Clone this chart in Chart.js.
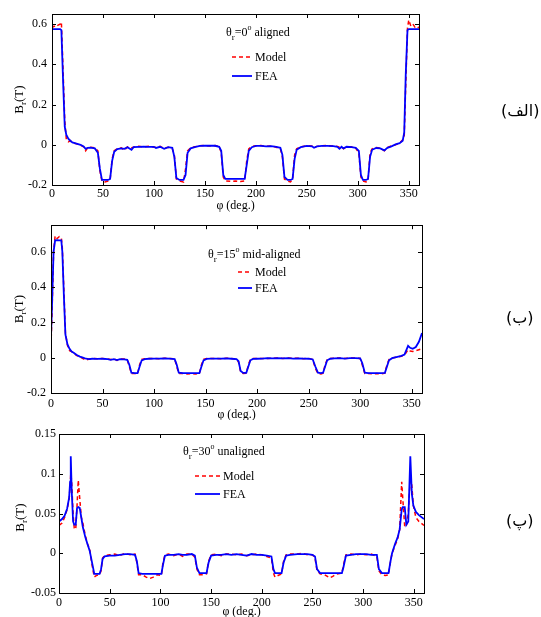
<!DOCTYPE html>
<html>
<head>
<meta charset="utf-8">
<script src="https://cdn.jsdelivr.net/npm/chart.js@4.4.0/dist/chart.umd.min.js"></script>
<style>
body { margin: 0; background: #fff; width: 541px; height: 617px; position: relative; overflow: hidden; }
canvas { position: absolute; left: 0; }
.tag { position: absolute; font-family: 'DejaVu Sans', sans-serif; font-size: 16px; line-height: 20px; direction: rtl; white-space: nowrap; color: #000; }
</style>
</head>
<body>
<canvas id="chartA" width="541" height="213" style="top:0px"></canvas>
<canvas id="chartB" width="541" height="207" style="top:213px"></canvas>
<canvas id="chartC" width="541" height="197" style="top:420px"></canvas>
<div class="tag" style="left:501px;top:101px">(الف)</div>
<div class="tag" style="left:506px;top:308px">(ب)</div>
<div class="tag" style="left:506px;top:511px">(پ)</div>
<script>
// x ticks shared by all three panels
const xTicks = [0, 50, 100, 150, 200, 250, 300, 350];

// (الف) theta_r = 0 deg, aligned
const phiA = [0, 2, 4, 6, 8, 9.2, 11, 12.5, 14, 16, 18, 20, 24, 28, 31, 33, 35, 38, 42, 45, 47, 49, 52, 55, 57, 59, 61, 64, 68, 71, 74, 78, 80, 85, 90, 95, 100, 102, 106, 110, 114, 118, 120, 122, 125, 129, 131, 133, 136, 140, 145, 150, 155, 160, 164, 166, 168, 170, 175, 180, 185, 189, 191, 193, 196, 200, 205, 210, 215, 220, 224, 226, 228, 231, 234, 236, 238, 240, 244, 250, 255, 257, 260, 265, 270, 276, 280, 282, 284, 286, 289, 294, 298, 301, 303, 305, 308, 310, 312, 314, 318, 322, 326, 329, 333, 337, 341, 344, 345.5, 347, 348.7, 350, 352, 354, 356, 358, 360];
const feaA = [0.575, 0.575, 0.575, 0.575, 0.575, 0.57, 0.3, 0.09, 0.05, 0.03, 0.02, 0.012, 0.006, 0.0, -0.008, -0.02, -0.015, -0.014, -0.018, -0.04, -0.12, -0.175, -0.175, -0.175, -0.17, -0.08, -0.035, -0.022, -0.018, -0.02, -0.012, -0.025, -0.012, -0.01, -0.009, -0.01, -0.01, -0.016, -0.01, -0.02, -0.012, -0.015, -0.06, -0.165, -0.175, -0.175, -0.15, -0.04, -0.018, -0.012, -0.006, -0.005, -0.005, -0.005, -0.01, -0.03, -0.15, -0.17, -0.17, -0.17, -0.17, -0.17, -0.1, -0.03, -0.012, -0.006, -0.006, -0.008, -0.007, -0.01, -0.015, -0.05, -0.16, -0.175, -0.175, -0.17, -0.07, -0.025, -0.012, -0.006, -0.008, -0.015, -0.008, -0.006, -0.006, -0.007, -0.01, -0.02, -0.01, -0.018, -0.01, -0.012, -0.015, -0.03, -0.15, -0.175, -0.175, -0.17, -0.06, -0.025, -0.016, -0.018, -0.028, -0.015, -0.008, 0.002, 0.008, 0.02, 0.06, 0.35, 0.57, 0.575, 0.575, 0.575, 0.575, 0.575, 0.575];
const modelA = [0.58, 0.59, 0.585, 0.595, 0.6, 0.61, 0.35, 0.12, 0.03, 0.015, 0.02, 0.01, 0.005, -0.002, -0.01, -0.03, -0.015, -0.012, -0.015, -0.03, -0.13, -0.18, -0.185, -0.18, -0.175, -0.07, -0.03, -0.02, -0.015, -0.028, -0.01, -0.015, -0.012, -0.008, -0.01, -0.008, -0.012, -0.012, -0.008, -0.018, -0.012, -0.02, -0.05, -0.17, -0.18, -0.185, -0.12, -0.03, -0.015, -0.01, -0.005, -0.004, -0.006, -0.004, -0.008, -0.04, -0.16, -0.18, -0.182, -0.18, -0.183, -0.18, -0.08, -0.02, -0.008, -0.005, -0.004, -0.008, -0.006, -0.012, -0.02, -0.06, -0.17, -0.18, -0.185, -0.17, -0.05, -0.02, -0.01, -0.005, -0.006, -0.012, -0.008, -0.005, -0.004, -0.006, -0.008, -0.012, -0.01, -0.02, -0.01, -0.01, -0.018, -0.04, -0.16, -0.18, -0.185, -0.18, -0.04, -0.02, -0.014, -0.016, -0.03, -0.014, -0.006, 0.0, 0.008, 0.025, 0.04, 0.3, 0.58, 0.62, 0.59, 0.6, 0.585, 0.59, 0.58];
const yTicksA = [-0.2, 0, 0.2, 0.4, 0.6];

// (ب) theta_r = 15 deg, mid-aligned
const phiB = [0, 1, 2.5, 4, 6, 8, 10, 11, 12.5, 14, 16, 18, 20, 22, 25, 28, 31, 34, 37, 40, 45, 50, 55, 58, 61, 64, 67, 71, 74, 76, 78, 81, 84, 86, 88, 91, 95, 100, 105, 110, 115, 120, 122, 124, 128, 132, 136, 140, 144, 146, 148, 151, 155, 160, 165, 170, 175, 180, 182, 184, 186.5, 189.5, 191.5, 193.5, 196, 200, 205, 210, 215, 220, 225, 230, 235, 240, 245, 250, 254, 256.5, 259, 262, 264, 266, 268, 271, 275, 280, 285, 290, 295, 300, 302, 304.5, 308, 312, 316, 320, 324, 326, 328, 331, 335, 340, 343, 346.5, 348.5, 351, 354, 357, 360];
const feaB = [0.117, 0.3, 0.6, 0.664, 0.665, 0.664, 0.664, 0.6, 0.35, 0.13, 0.075, 0.05, 0.035, 0.028, 0.015, 0.006, 0.0, -0.006, -0.008, -0.006, -0.007, -0.006, -0.008, -0.012, -0.008, -0.014, -0.008, -0.01, -0.012, -0.04, -0.085, -0.088, -0.088, -0.05, -0.015, -0.008, -0.006, -0.005, -0.005, -0.004, -0.005, -0.008, -0.04, -0.085, -0.088, -0.088, -0.088, -0.088, -0.088, -0.05, -0.015, -0.007, -0.005, -0.005, -0.005, -0.004, -0.006, -0.008, -0.02, -0.075, -0.086, -0.086, -0.05, -0.015, -0.007, -0.006, -0.005, -0.003, -0.004, -0.003, -0.004, -0.003, -0.005, -0.004, -0.005, -0.006, -0.01, -0.05, -0.085, -0.087, -0.085, -0.05, -0.015, -0.006, -0.004, -0.003, -0.005, -0.003, -0.002, -0.004, -0.03, -0.085, -0.088, -0.088, -0.088, -0.088, -0.086, -0.05, -0.015, -0.003, 0.003, 0.01, 0.018, 0.067, 0.056, 0.05, 0.06, 0.09, 0.14];
const modelB = [0.07, 0.25, 0.6, 0.69, 0.675, 0.685, 0.68, 0.62, 0.38, 0.14, 0.07, 0.04, 0.035, 0.025, 0.012, 0.005, -0.005, -0.015, -0.008, -0.005, -0.006, -0.004, -0.008, -0.01, -0.006, -0.016, -0.008, -0.008, -0.012, -0.05, -0.09, -0.09, -0.092, -0.04, -0.01, -0.006, -0.005, -0.004, -0.006, -0.003, -0.004, -0.006, -0.05, -0.09, -0.09, -0.092, -0.09, -0.092, -0.09, -0.04, -0.01, -0.005, -0.004, -0.004, -0.006, -0.003, -0.005, -0.008, -0.025, -0.08, -0.09, -0.088, -0.04, -0.01, -0.005, -0.005, -0.004, -0.004, -0.003, -0.002, -0.005, -0.002, -0.004, -0.003, -0.006, -0.004, -0.01, -0.06, -0.09, -0.092, -0.088, -0.04, -0.01, -0.004, -0.003, -0.002, -0.004, -0.002, -0.002, -0.005, -0.04, -0.09, -0.09, -0.092, -0.09, -0.092, -0.088, -0.04, -0.01, -0.002, 0.002, 0.008, 0.015, 0.045, 0.038, 0.035, 0.04, 0.045, 0.05];
const yTicksB = [-0.2, 0, 0.2, 0.4, 0.6];

// (پ) theta_r = 30 deg, unaligned
const phiC = [0, 3, 5.5, 8, 10, 11, 11.6, 12.5, 13.9, 15, 16.5, 17.8, 19, 20.4, 22, 23.5, 26, 28, 30.3, 32, 33.6, 34.8, 37, 40, 41.5, 43, 45, 50, 55, 60, 65, 70, 75, 76.8, 78.5, 82, 86, 89, 93, 97, 101, 102.5, 104.5, 108, 113, 118, 122, 126, 131, 134, 136, 138.5, 142, 145.5, 147.5, 150, 155, 160, 165, 170, 175, 180, 185, 190, 195, 200, 205, 209.5, 211.5, 213, 216, 219.5, 221.5, 224, 228, 235, 240, 245, 250, 252.5, 254.5, 257.5, 262, 267, 270, 274, 279, 280.5, 283, 288, 293, 298, 303, 308, 313.5, 315.5, 318.5, 322, 325, 327, 328.5, 331.5, 334, 336, 338, 339, 341, 342.6, 344.5, 346.5, 348, 349.5, 352, 355, 360];
const feaC = [0.04, 0.043, 0.047, 0.056, 0.07, 0.09, 0.122, 0.08, 0.04, 0.036, 0.036, 0.057, 0.058, 0.057, 0.045, 0.033, 0.02, 0.012, 0.003, -0.008, -0.018, -0.026, -0.026, -0.026, -0.02, -0.007, -0.004, -0.003, -0.003, -0.002, -0.001, -0.001, -0.002, -0.01, -0.025, -0.026, -0.026, -0.026, -0.026, -0.026, -0.026, -0.015, -0.003, -0.002, -0.002, -0.001, -0.002, -0.002, -0.001, -0.003, -0.018, -0.025, -0.025, -0.025, -0.012, -0.003, -0.002, -0.002, -0.001, -0.002, -0.001, -0.002, -0.003, -0.001, -0.002, -0.002, -0.003, -0.004, -0.02, -0.025, -0.025, -0.025, -0.012, -0.003, -0.002, -0.001, -0.001, -0.001, -0.002, -0.004, -0.02, -0.025, -0.025, -0.025, -0.025, -0.025, -0.025, -0.018, -0.003, -0.002, -0.001, -0.001, -0.001, -0.002, -0.002, -0.02, -0.025, -0.025, -0.025, -0.01, 0.0, 0.012, 0.02, 0.03, 0.055, 0.058, 0.058, 0.036, 0.04, 0.122, 0.075, 0.06, 0.052, 0.048, 0.043];
const modelC = [0.035, 0.038, 0.045, 0.055, 0.068, 0.085, 0.1, 0.09, 0.05, 0.032, 0.03, 0.06, 0.092, 0.07, 0.045, 0.038, 0.022, 0.012, 0.005, -0.01, -0.022, -0.03, -0.028, -0.027, -0.022, -0.006, -0.003, -0.002, -0.001, -0.003, 0.0, -0.002, -0.001, -0.012, -0.027, -0.027, -0.03, -0.032, -0.03, -0.027, -0.028, -0.012, -0.002, -0.001, -0.003, -0.001, -0.004, -0.001, -0.001, -0.005, -0.02, -0.027, -0.027, -0.026, -0.01, -0.002, -0.001, -0.003, -0.001, -0.001, -0.002, -0.001, -0.003, -0.002, -0.001, -0.002, -0.004, -0.006, -0.025, -0.03, -0.028, -0.026, -0.01, -0.002, -0.001, -0.001, 0.0, -0.002, -0.002, -0.006, -0.022, -0.026, -0.027, -0.031, -0.029, -0.026, -0.025, -0.015, -0.002, -0.001, -0.002, -0.001, -0.002, -0.001, -0.004, -0.022, -0.027, -0.028, -0.027, -0.01, 0.0, 0.01, 0.018, 0.03, 0.09, 0.07, 0.033, 0.035, 0.05, 0.096, 0.085, 0.06, 0.045, 0.04, 0.035];
const yTicksC = [-0.05, 0, 0.05, 0.1, 0.15];

const serif = "'Liberation Serif', 'Times New Roman', serif";
const RED = '#ff0000';
const BLUE = '#0000ff';

// frame, inward ticks, y title with subscript and the in-plot legend
const decor = {
  id: 'decor',
  afterDraw(chart, args, o) {
    const ctx = chart.ctx, a = chart.chartArea;
    const xs = chart.scales.x, ys = chart.scales.y;
    ctx.save();
    ctx.strokeStyle = '#000';
    ctx.lineWidth = 1;
    ctx.strokeRect(Math.round(a.left) + 0.5, Math.round(a.top) + 0.5, Math.round(a.right - a.left), Math.round(a.bottom - a.top));
    ctx.beginPath();
    xs.ticks.forEach(t => {
      const px = Math.round(xs.getPixelForValue(t.value)) + 0.5;
      ctx.moveTo(px, a.bottom); ctx.lineTo(px, a.bottom - 4);
      ctx.moveTo(px, a.top); ctx.lineTo(px, a.top + 4);
    });
    ys.ticks.forEach(t => {
      const py = Math.round(ys.getPixelForValue(t.value)) + 0.5;
      ctx.moveTo(a.left, py); ctx.lineTo(a.left + 4, py);
      ctx.moveTo(a.right, py); ctx.lineTo(a.right - 4, py);
    });
    ctx.stroke();

    ctx.fillStyle = '#000';
    ctx.textBaseline = 'alphabetic';
    ctx.textAlign = 'left';

    // y axis title B_r(T)
    ctx.save();
    ctx.translate(o.yTitleX, (a.top + a.bottom) / 2 + (o.yTitleShift || 0));
    ctx.rotate(-Math.PI / 2);
    ctx.font = '13px ' + serif;
    const wB = ctx.measureText('B').width, wT = ctx.measureText('(T)').width;
    ctx.font = '9px ' + serif;
    const wr = ctx.measureText('r').width;
    let x = -(wB + wr + wT) / 2;
    ctx.font = '13px ' + serif; ctx.fillText('B', x, 0); x += wB;
    ctx.font = '9px ' + serif; ctx.fillText('r', x, 3); x += wr;
    ctx.font = '13px ' + serif; ctx.fillText('(T)', x, 0);
    ctx.restore();

    // theta_r label
    x = o.thetaX;
    const y = o.thetaY;
    ctx.font = '12px ' + serif; ctx.fillText('θ', x, y); x += ctx.measureText('θ').width;
    ctx.font = '9px ' + serif; ctx.fillText('r', x, y + 4); x += ctx.measureText('r').width;
    ctx.font = '12px ' + serif; ctx.fillText('=' + o.deg, x, y); x += ctx.measureText('=' + o.deg).width;
    ctx.font = '8px ' + serif; ctx.fillText('o', x, y - 6); x += ctx.measureText('o').width;
    ctx.font = '12px ' + serif; ctx.fillText(' ' + o.word, x, y);

    // legend samples
    chart.data.datasets.forEach((ds, i) => {
      const ly = o.legendY[i];
      ctx.beginPath();
      ctx.strokeStyle = ds.borderColor;
      ctx.lineWidth = ds.borderWidth;
      ctx.setLineDash(ds.borderDash || []);
      ctx.moveTo(o.lineX0, ly); ctx.lineTo(o.lineX1, ly);
      ctx.stroke();
      ctx.setLineDash([]);
      ctx.font = '12px ' + serif;
      ctx.fillText(ds.label, o.lineX1 + 3, ly + 4);
    });
    ctx.restore();
  }
};

function makeChart(id, phi, model, fea, yMin, yMax, yTicks, box, deco) {
  const pts = arr => arr.map((v, i) => ({ x: phi[i], y: v }));
  return new Chart(document.getElementById(id), {
    type: 'line',
    data: {
      datasets: [
        { label: 'Model', data: pts(model), borderColor: RED, borderWidth: 1.5, borderDash: [4, 3], pointRadius: 0, tension: 0, order: 1 },
        { label: 'FEA', data: pts(fea), borderColor: BLUE, borderWidth: 1.8, pointRadius: 0, tension: 0, order: 0 }
      ]
    },
    options: {
      responsive: false,
      animation: false,
      devicePixelRatio: 1,
      layout: { autoPadding: false, padding: { top: box.top, right: box.right, left: 0, bottom: 0 } },
      plugins: { legend: { display: false }, tooltip: { enabled: false }, decor: deco },
      scales: {
        x: {
          type: 'linear', min: 0, max: 360,
          afterBuildTicks: s => { s.ticks = xTicks.map(v => ({ value: v })); },
          afterFit: s => { s.height = box.xh; },
          grid: { display: false, drawTicks: false },
          border: { display: false },
          ticks: { autoSkip: false, maxRotation: 0, padding: box.xpad, color: '#000', font: { family: serif, size: 12 } },
          title: { display: true, text: 'φ (deg.)', color: '#000', padding: { top: 0, bottom: box.tpad }, font: { family: serif, size: 12 } }
        },
        y: {
          type: 'linear', min: yMin, max: yMax,
          afterBuildTicks: s => { s.ticks = yTicks.map(v => ({ value: v })); },
          afterFit: s => { s.width = box.yw; },
          grid: { display: false, drawTicks: false },
          border: { display: false },
          ticks: { padding: box.ypad, color: '#000', font: { family: serif, size: 12 }, callback: v => String(v) }
        }
      }
    },
    plugins: [decor]
  });
}

makeChart('chartA', phiA, modelA, feaA, -0.2, 0.65, yTicksA,
  { top: 14, right: 122, yw: 52, xh: 28, xpad: 2, ypad: 5, tpad: 0 },
  { deg: '0', word: 'aligned', thetaX: 226, thetaY: 36, lineX0: 232, lineX1: 252, legendY: [57, 76], yTitleX: 23 });

makeChart('chartB', phiB, modelB, feaB, -0.2, 0.75, yTicksB,
  { top: 8, right: 119, yw: 51, xh: 27, xpad: 4, ypad: 5, tpad: -2 },
  { deg: '15', word: 'mid-aligned', thetaX: 208, thetaY: 45, lineX0: 238, lineX1: 252, legendY: [59, 75], yTitleX: 23 });

makeChart('chartC', phiC, modelC, feaC, -0.05, 0.15, yTicksC,
  { top: 14, right: 117, yw: 59, xh: 24, xpad: 3, ypad: 3, tpad: -2 },
  { deg: '30', word: 'unaligned', thetaX: 183, thetaY: 35, lineX0: 195, lineX1: 220, legendY: [56, 74], yTitleX: 24, yTitleShift: 4 });
</script>
</body>
</html>
